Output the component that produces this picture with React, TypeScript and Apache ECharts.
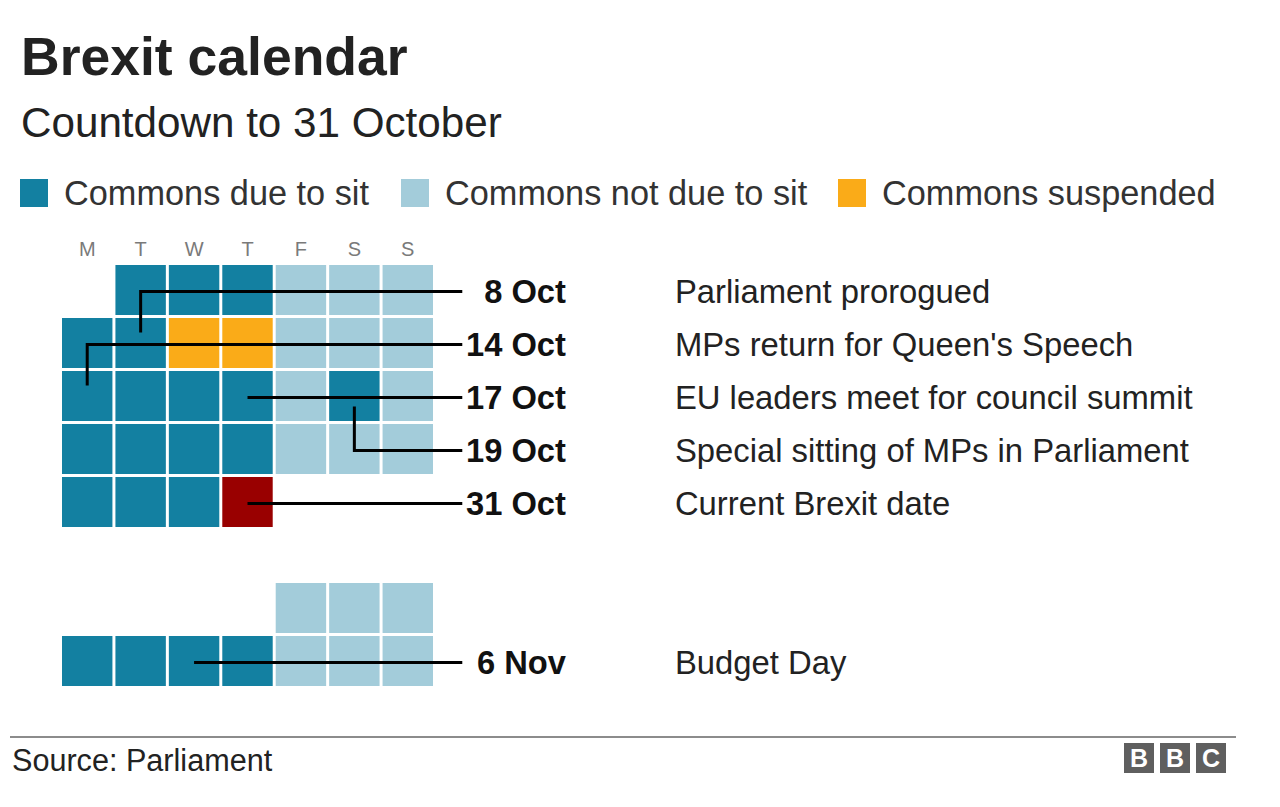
import React, { useEffect, useRef } from "react";
import * as echarts from "echarts";

// ---- data ----
const weekdays = ["Mon", "Tue", "Wed", "Thu", "Fri", "Sat", "Sun"];
const weekRows = ["Oct wk1", "Oct wk2", "Oct wk3", "Oct wk4", "Oct wk5", "", "Nov wk1", "Nov wk2"];

const statusNames = ["Commons due to sit", "Commons not due to sit", "Commons suspended", "Brexit date"];
const statusColors = ["#1380A1", "#A3CCDA", "#FAAB18", "#990000"];

// 0 = sit, 1 = not due to sit, 2 = suspended, 3 = Brexit date
const octoberStatus = [
  0, 0, 0, 1, 1, 1,
  0, 0, 2, 2, 1, 1, 1,
  0, 0, 0, 0, 1, 0, 1,
  0, 0, 0, 0, 1, 1, 1,
  0, 0, 0, 3,
];
const novemberStatus = [1, 1, 1, 0, 0, 0, 0, 1, 1, 1];

const annotationMonth = ["Oct", "Oct", "Oct", "Oct", "Oct", "Nov"];
const annotationDay = [8, 14, 17, 19, 31, 6];
const annotationLabel = ["8 Oct", "14 Oct", "17 Oct", "19 Oct", "31 Oct", "6 Nov"];
const annotationText = [
  "Parliament prorogued",
  "MPs return for Queen's Speech",
  "EU leaders meet for council summit",
  "Special sitting of MPs in Parliament",
  "Current Brexit date",
  "Budget Day",
];
const annotationLabelRow = [0, 1, 2, 3, 4, 7];

const FONT = "'Liberation Sans', Arial, Helvetica, sans-serif";

function cellOf(month: string, day: number): [number, number] {
  const m = month === "Oct" ? 9 : 10;
  const firstCol = (new Date(2019, m, 1).getDay() + 6) % 7;
  const idx = firstCol + day - 1;
  const rowBase = month === "Oct" ? 0 : 6;
  return [idx % 7, rowBase + Math.floor(idx / 7)];
}

const cellData: number[][] = [];
octoberStatus.forEach((s, i) => {
  const [c, r] = cellOf("Oct", i + 1);
  cellData.push([c, r, s]);
});
novemberStatus.forEach((s, i) => {
  const [c, r] = cellOf("Nov", i + 1);
  cellData.push([c, r, s]);
});

const annotationData = annotationDay.map((d, i) => {
  const [c, r] = cellOf(annotationMonth[i], d);
  return [c, r, annotationLabelRow[i], i];
});

export default function App() {
  const ref = useRef<HTMLDivElement>(null);
  useEffect(() => {
    if (!ref.current) return;
    const chart = echarts.init(ref.current, null, { renderer: "svg" });

    const legendItems: any[] = [];
    const legendX = [20, 401, 838];
    [0, 1, 2].forEach((k) => {
      legendItems.push({
        type: "rect",
        shape: { x: legendX[k], y: 179, width: 28, height: 28 },
        style: { fill: statusColors[k] },
      });
      legendItems.push({
        type: "text",
        style: {
          text: statusNames[k],
          x: legendX[k] + 44,
          y: 193,
          verticalAlign: "middle",
          fontSize: 34.3,
          fontFamily: FONT,
          fill: "#333",
        },
      });
    });

    const logo: any[] = [];
    ["B", "B", "C"].forEach((ch, i) => {
      const x = 1124 + i * 36;
      logo.push({
        type: "rect",
        shape: { x, y: 743, width: 30, height: 30 },
        style: { fill: "#5f5f5f" },
      });
      logo.push({
        type: "text",
        style: {
          text: ch,
          x: x + 15,
          y: 758,
          align: "center",
          verticalAlign: "middle",
          fontSize: 25,
          fontWeight: "bold",
          fontFamily: FONT,
          fill: "#fff",
        },
      });
    });

    chart.setOption({
      animation: false,
      backgroundColor: "#fff",
      grid: { left: 60.5, top: 263.5, width: 374, height: 424 },
      xAxis: {
        type: "category",
        data: weekdays,
        position: "top",
        axisLine: { show: false },
        axisTick: { show: false },
        axisLabel: {
          formatter: (v: string) => v[0],
          color: "#7a7a7a",
          fontSize: 20,
          fontFamily: FONT,
          margin: 5,
        },
        splitLine: { show: false },
      },
      yAxis: {
        type: "category",
        data: weekRows,
        inverse: true,
        show: false,
      },
      graphic: [
        {
          type: "text",
          style: {
            text: "Brexit calendar",
            x: 21,
            y: 56,
            verticalAlign: "middle",
            fontSize: 53.5,
            fontWeight: "bold",
            fontFamily: FONT,
            fill: "#222",
          },
        },
        {
          type: "text",
          style: {
            text: "Countdown to 31 October",
            x: 21,
            y: 122,
            verticalAlign: "middle",
            fontSize: 42.2,
            fontFamily: FONT,
            fill: "#222",
          },
        },
        ...legendItems,
        {
          type: "line",
          shape: { x1: 10, y1: 737, x2: 1236, y2: 737 },
          style: { stroke: "#8c8c8c", lineWidth: 2 },
        },
        {
          type: "text",
          style: {
            text: "Source: Parliament",
            x: 12,
            y: 760,
            verticalAlign: "middle",
            fontSize: 30.6,
            fontFamily: FONT,
            fill: "#222",
          },
        },
        ...logo,
      ],
      series: [
        {
          type: "custom",
          data: cellData,
          z: 2,
          renderItem: (params: any, api: any) => {
            const c = api.coord([api.value(0), api.value(1)]);
            const s = api.size([1, 1]);
            const gap = 3;
            return {
              type: "rect",
              shape: {
                x: c[0] - s[0] / 2 + gap / 2,
                y: c[1] - s[1] / 2 + gap / 2,
                width: s[0] - gap,
                height: s[1] - gap,
              },
              style: { fill: statusColors[api.value(2)] },
            };
          },
        },
        {
          type: "custom",
          data: annotationData,
          z: 3,
          renderItem: (params: any, api: any) => {
            const col = api.value(0);
            const row = api.value(1);
            const lr = api.value(2);
            const i = api.value(3);
            const p = api.coord([col, row]);
            const q = api.coord([6, lr]);
            const s = api.size([1, 1]);
            const y = q[1] + 1.5;
            const endX = q[0] + s[0] * 1.02;
            const labelX = q[0] + s[0] * 2.96;
            const descX = labelX + 109;
            let points: number[][];
            if (lr === row) {
              points = [
                [p[0], y],
                [endX, y],
              ];
            } else {
              const dir = lr < row ? -1 : 1;
              points = [
                [p[0], p[1] + dir * s[1] * 0.2],
                [p[0], y],
                [endX, y],
              ];
            }
            return {
              type: "group",
              children: [
                {
                  type: "polyline",
                  shape: { points },
                  style: { stroke: "#000", lineWidth: 3, fill: "none" },
                },
                {
                  type: "text",
                  style: {
                    text: annotationLabel[i],
                    x: labelX,
                    y,
                    align: "right",
                    verticalAlign: "middle",
                    fontSize: 32.7,
                    fontWeight: "bold",
                    fontFamily: FONT,
                    fill: "#111",
                  },
                },
                {
                  type: "text",
                  style: {
                    text: annotationText[i],
                    x: descX,
                    y,
                    align: "left",
                    verticalAlign: "middle",
                    fontSize: 32.8,
                    fontFamily: FONT,
                    fill: "#222",
                  },
                },
              ],
            };
          },
        },
      ],
    });
    return () => chart.dispose();
  }, []);
  return (
    <div
      ref={ref}
      style={{ position: "absolute", left: 0, top: 0, width: 1280, height: 807 }}
    />
  );
}
